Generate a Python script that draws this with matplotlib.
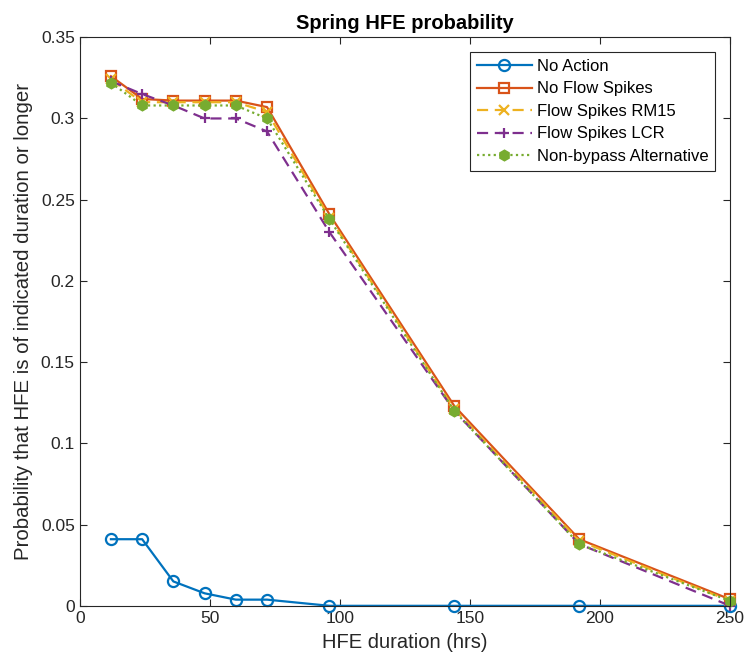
import numpy as np
import matplotlib
matplotlib.use("Agg")
import matplotlib.pyplot as plt

plt.rcParams['font.family'] = ['Liberation Sans', 'DejaVu Sans']

# HFE duration (hrs)
hours = [12, 24, 36, 48, 60, 72, 96, 144, 192, 250]

no_action = [0.041, 0.041, 0.015, 0.0077, 0.0038, 0.0038, 0.0, 0.0, 0.0, 0.0]
no_flow_spikes = [0.326, 0.312, 0.311, 0.311, 0.311, 0.307, 0.241, 0.123, 0.041, 0.004]
flow_spikes_rm15 = [0.324, 0.310, 0.310, 0.310, 0.310, 0.304, 0.239, 0.121, 0.040, 0.003]
flow_spikes_lcr = [0.323, 0.315, 0.308, 0.300, 0.300, 0.292, 0.230, 0.120, 0.038, 0.000]
non_bypass = [0.322, 0.308, 0.308, 0.308, 0.308, 0.300, 0.238, 0.120, 0.038, 0.003]

series = [
    ("No Action", no_action, "#0072BD", "-", "o"),
    ("No Flow Spikes", no_flow_spikes, "#D95319", "-", "s"),
    ("Flow Spikes RM15", flow_spikes_rm15, "#EDB120", (0, (5, 3)), "x"),
    ("Flow Spikes LCR", flow_spikes_lcr, "#7E2F8E", (0, (5, 3)), "+"),
    ("Non-bypass Alternative", non_bypass, "#77AC30", (0, (1, 1.5)), "h"),
]

fig = plt.figure(figsize=(7.45, 6.65), dpi=100)
ax = fig.add_axes([0.107, 0.089, 0.873, 0.855])

for name, vals, col, ls, mk in series:
    filled = mk == "h"
    ax.plot(hours, vals, color=col, linestyle=ls, linewidth=1.6, marker=mk,
            markersize=8 if mk == "o" else 7,
            markerfacecolor=col if filled else "none",
            markeredgecolor=col, markeredgewidth=1.6, label=name,
            clip_on=False)

ax.set_xlim(0, 250)
ax.set_ylim(0, 0.35)
ax.set_xticks(np.arange(0, 251, 50))
ax.set_yticks(np.arange(0, 0.351, 0.05))
ax.set_yticklabels(["0", "0.05", "0.1", "0.15", "0.2", "0.25", "0.3", "0.35"])
ax.tick_params(direction="in", top=True, right=True, labelsize=12.5,
               colors="#262626", length=5)
for sp in ax.spines.values():
    sp.set_color("#262626")
    sp.set_linewidth(0.8)

ax.set_xlabel("HFE duration (hrs)", fontsize=14.5, color="#262626", labelpad=5)
ax.set_ylabel("Probability that HFE is of indicated duration or longer",
              fontsize=14.7, color="#262626", labelpad=6)
ax.set_title("Spring HFE probability", fontsize=14.5, fontweight="bold", pad=6)

leg = ax.legend(loc="upper right", fontsize=12, fancybox=False,
                edgecolor="#262626", framealpha=1, handlelength=3.3,
                borderaxespad=0.9, labelspacing=0.45, handletextpad=0.3,
                borderpad=0.4)
leg.get_frame().set_linewidth(0.8)

fig.savefig("out.png", dpi=100)
